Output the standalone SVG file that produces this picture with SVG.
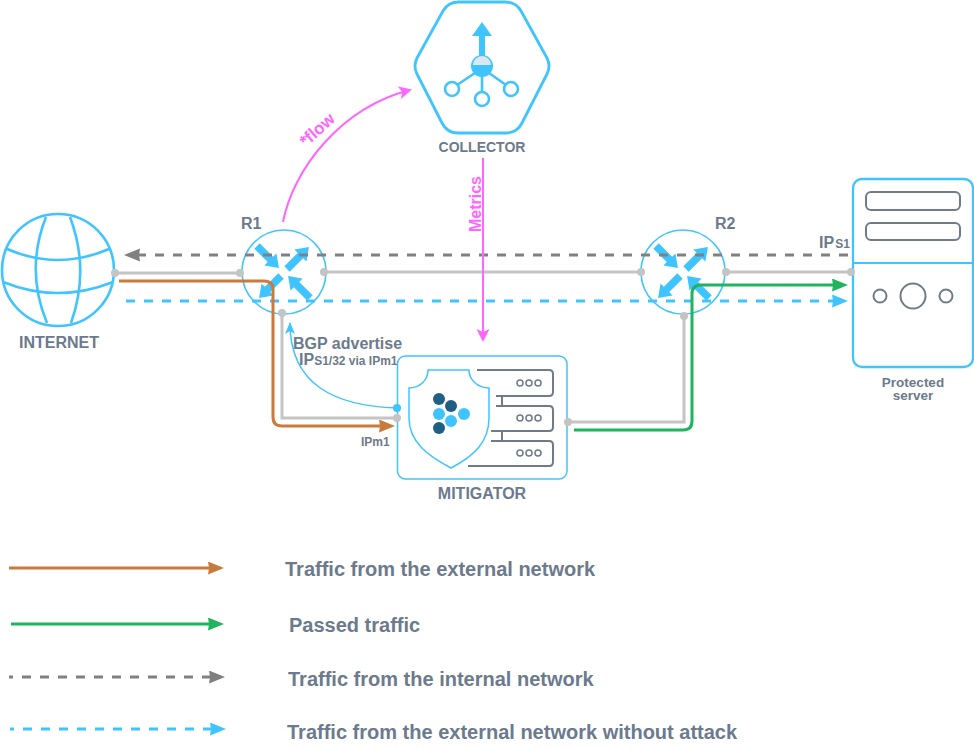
<svg xmlns="http://www.w3.org/2000/svg" xmlns:xlink="http://www.w3.org/1999/xlink" width="974" height="749" viewBox="0 0 974 749">
<style>
text{font-family:"Liberation Sans",Arial,sans-serif;font-weight:bold;fill:#6C7A8D}
.m{text-anchor:middle}
.b{fill:none;stroke:#40C4FF}
.g{fill:none;stroke:#6F7B89;stroke-width:2}
.w{fill:none;stroke:#C4C4C4;stroke-width:3}
.d{fill:#C4C4C4}
.p{fill:#FF66FF}
.leg{font-size:20px}
.line{fill:none;stroke-width:3}
</style>
<defs>
<marker id="hO" markerUnits="userSpaceOnUse" markerWidth="18" markerHeight="14" refX="8" refY="6.5" orient="auto"><path d="M0,0L16,6.5L0,13L1,6.5z" fill="#C97B3D"/></marker>
<marker id="hG" markerUnits="userSpaceOnUse" markerWidth="18" markerHeight="14" refX="8" refY="6.5" orient="auto"><path d="M0,0L16,6.5L0,13L1,6.5z" fill="#21B35F"/></marker>
<marker id="hK" markerUnits="userSpaceOnUse" markerWidth="18" markerHeight="14" refX="8" refY="6.5" orient="auto"><path d="M0,0L16,6.5L0,13L1,6.5z" fill="#808080"/></marker>
<marker id="hB" markerUnits="userSpaceOnUse" markerWidth="18" markerHeight="14" refX="8" refY="6.5" orient="auto"><path d="M0,0L16,6.5L0,13L1,6.5z" fill="#40C4FF"/></marker>
<marker id="hP" markerUnits="userSpaceOnUse" markerWidth="14" markerHeight="14" refX="11" refY="6.5" orient="auto"><path d="M0,0L13,6.5L0,13L3,6.5z" fill="#FF66FF"/></marker>
<marker id="hC" markerUnits="userSpaceOnUse" markerWidth="14" markerHeight="12" refX="11" refY="5" orient="auto"><path d="M0,0L12,5L0,10L3,5z" fill="#40C4FF"/></marker>
<path id="a" d="M0,-3.800H19V-8.500L31,0L19,8.500V3.800H0z" fill="#40C4FF"/>
<g id="ra">
<use xlink:href="#a" href="#a" transform="translate(-27,-26) rotate(45)"/>
<use xlink:href="#a" href="#a" transform="translate(3,-3) rotate(-45)"/>
<use xlink:href="#a" href="#a" transform="translate(-3,4) rotate(135)"/>
<use xlink:href="#a" href="#a" transform="translate(26,26) rotate(-135)"/>
</g>
</defs>

<g id="internet">
<circle cx="58" cy="270" r="56" class="b" stroke-width="2.600"/>
<path class="b" stroke-width="2.600" d="M46,217Q25,270 47,323M70,217Q90,270 71,323M7,249Q58,271 109,249M3,282Q58,304 113,282"/>
<text x="59" y="348" class="m" font-size="16">INTERNET</text>
</g>

<g id="r1">
<circle cx="284" cy="272" r="42" class="b" stroke-width="1.600"/>
<use xlink:href="#ra" href="#ra" transform="translate(284,272)"/>
<text x="241" y="229" font-size="16">R1</text>
</g>

<g id="r2">
<circle cx="683" cy="272" r="42" class="b" stroke-width="1.600"/>
<use xlink:href="#ra" href="#ra" transform="translate(683,272)"/>
<text x="715" y="229" font-size="16">R2</text>
</g>

<g id="collector">
<path class="b" stroke-width="2.800" d="M457,2H505Q516,2 521,11L547,58Q551,66 547,74L522,123Q517,133 506,133H458Q447,133 442,123L417,74Q413,66 417,58L443,11Q448,2 459,2z"/>
<path fill="#40C4FF" d="M482,22L492,36H485V56H479V36H472z"/>
<path class="b" stroke-width="2.600" d="M475,73L457,85M482,75V92M489,73L506,85"/>
<circle cx="482" cy="66" r="11" fill="#40C4FF"/>
<path d="M473,65A9,9 0 0 1 491,65z" fill="#DCE8EE"/>
<circle cx="452" cy="89" r="7" fill="#fff" stroke="#40C4FF" stroke-width="2.600"/>
<circle cx="482" cy="99" r="7" fill="#fff" stroke="#40C4FF" stroke-width="2.600"/>
<circle cx="511" cy="89" r="7" fill="#fff" stroke="#40C4FF" stroke-width="2.600"/>
<text x="482" y="152" class="m" font-size="14">COLLECTOR</text>
</g>

<g id="mitigator">
<rect x="397.500" y="356" width="169.500" height="123" rx="8" class="b" stroke-width="1.500"/>
<path class="b" stroke-width="1.500" d="M428,370H469C469,380 478,388 489,388V418C489,442 474,456 451,468C428,456 409,442 409,418V388C420,388 428,380 428,370z"/>
<path class="g" d="M477,370H549Q553,370 553,374V392Q553,396 549,396H496M496,406H549Q553,406 553,410V427Q553,431 549,431H491M491,441H549Q553,441 553,445V462Q553,466 549,466H468M502,396V406M502,431V441"/>
<g fill="none" stroke="#6F7B89" stroke-width="1.500">
<circle cx="520" cy="383" r="3"/><circle cx="529" cy="383" r="3"/><circle cx="538" cy="383" r="3"/>
<circle cx="520" cy="418" r="3"/><circle cx="529" cy="418" r="3"/><circle cx="538" cy="418" r="3"/>
<circle cx="520" cy="453" r="3"/><circle cx="529" cy="453" r="3"/><circle cx="538" cy="453" r="3"/>
</g>
<g fill="#1F5F85"><circle cx="439" cy="399" r="6"/><circle cx="451" cy="406" r="6"/><circle cx="439" cy="428" r="6"/></g>
<g fill="#40C4FF"><circle cx="439" cy="414" r="6"/><circle cx="451" cy="421" r="6"/><circle cx="464" cy="414" r="6"/></g>
<text x="482" y="499" class="m" font-size="16">MITIGATOR</text>
</g>

<g id="protected-server">
<rect x="853" y="179" width="120" height="188" rx="9" class="b" stroke-width="2.300"/>
<path class="b" stroke-width="2" d="M853,263H973"/>
<rect x="866" y="192" width="94" height="18" rx="5" class="g"/>
<rect x="866" y="223" width="94" height="17" rx="5" class="g"/>
<circle cx="880" cy="296" r="6.500" class="g"/>
<circle cx="913" cy="296" r="12.500" class="g"/>
<circle cx="946" cy="296" r="6.500" class="g"/>
<text x="913" y="387" class="m" font-size="13.500">Protected</text>
<text x="913" y="400" class="m" font-size="13.500">server</text>
</g>

<g id="connectors">
<path class="w" d="M115,273H240M323,272H641M727,272H851M282,313V418H397M568,422H684V316"/>
<g class="d">
<circle cx="115" cy="273" r="4"/><circle cx="240" cy="273" r="4"/><circle cx="324" cy="272" r="4"/>
<circle cx="641" cy="272" r="4"/><circle cx="726" cy="272" r="4"/><circle cx="851" cy="272" r="4"/>
<circle cx="282" cy="313" r="4"/><circle cx="397" cy="418" r="4"/><circle cx="568" cy="422" r="4"/><circle cx="684" cy="316" r="4"/>
</g>
<path class="line" stroke="#808080" stroke-dasharray="9 9" d="M848,255H132" marker-end="url(#hK)"/>
<path class="line" stroke="#40C4FF" stroke-dasharray="9 9" d="M126,301H840" marker-end="url(#hB)"/>
<path class="line" stroke="#C97B3D" d="M119,281H264Q273,281 273,290V417Q273,426 282,426H387" marker-end="url(#hO)"/>
<path class="line" stroke="#21B35F" d="M574,430H683Q692,430 692,421V294Q692,285 701,285H840" marker-end="url(#hG)"/>
<path fill="none" stroke="#FF66FF" stroke-width="2" d="M283,222C293,170 340,108 410,90" marker-end="url(#hP)"/>
<path fill="none" stroke="#FF66FF" stroke-width="2" d="M483,158V340" marker-end="url(#hP)"/>
<path fill="none" stroke="#40C4FF" stroke-width="1.500" d="M397,408C335,406 290,385 290,323" marker-end="url(#hC)"/>
<circle cx="397" cy="408" r="4" fill="#40C4FF"/>
<text font-size="17" class="m p" transform="translate(321,134) rotate(-42)" style="fill:#FF66FF">*flow</text>
<text font-size="16" class="m p" transform="translate(481,204) rotate(-90)" style="fill:#FF66FF">Metrics</text>
<text x="293" y="349" font-size="16">BGP advertise</text>
<text x="299" y="365" font-size="16">IP<tspan font-size="12">S1/32 via IPm1</tspan></text>
<text x="361" y="446" font-size="12">IPm1</text>
<text x="819" y="248" font-size="16">IP<tspan font-size="12" dx="1">S1</tspan></text>
</g>

<g id="legend">
<path class="line" stroke="#C97B3D" d="M9,568H216" marker-end="url(#hO)"/>
<path class="line" stroke="#21B35F" d="M11,624H216" marker-end="url(#hG)"/>
<path class="line" stroke="#808080" stroke-dasharray="9 9" d="M9,677H217" marker-end="url(#hK)" stroke-dashoffset="5"/>
<path class="line" stroke="#40C4FF" stroke-dasharray="9 9" d="M10,729H218" marker-end="url(#hB)" stroke-dashoffset="5"/>
<text x="285" y="576" class="leg">Traffic from the external network</text>
<text x="289" y="632" class="leg">Passed traffic</text>
<text x="288" y="686" class="leg">Traffic from the internal network</text>
<text x="287" y="739" class="leg">Traffic from the external network without attack</text>
</g>
</svg>
